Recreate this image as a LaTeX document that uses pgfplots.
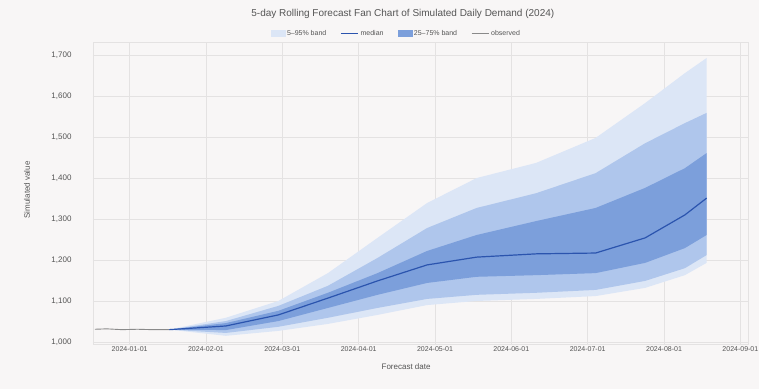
\documentclass[border=0pt]{standalone}
\usepackage{pgfplots}
\pgfplotsset{compat=1.18}
\usepackage{fontspec}
\setmainfont{Liberation Sans}
\definecolor{bgc}{HTML}{F8F6F6}
\definecolor{gridc}{HTML}{E4E2E2}
\definecolor{bandA}{HTML}{DCE6F6}
\definecolor{bandB}{HTML}{AFC6EC}
\definecolor{bandC}{HTML}{7C9FDB}
\definecolor{medc}{HTML}{2B54AE}
\definecolor{histc}{HTML}{8A8A8A}
\definecolor{txtc}{HTML}{555555}
\begin{document}
\begin{tikzpicture}
\fill[bgc] (-93pt,-45pt) rectangle (666pt,344pt);
\path[use as bounding box] (-93pt,-45pt) rectangle (666pt,344pt);
\begin{axis}[
  at={(0,0)}, anchor=south west,
  scale only axis, width=655pt, height=302pt,
  xmin=-0.48, xmax=8.1, ymin=995, ymax=1732,
  axis background/.style={fill=bgc},
  axis line style={gridc},
  grid=major, grid style={gridc, line width=0.6pt},
  major tick length=0pt,
  xtick={0,1,2,3,4,5,6,7,8},
  xticklabels={2024-01-01,2024-02-01,2024-03-01,2024-04-01,2024-05-01,2024-06-01,2024-07-01,2024-08-01,2024-09-01},
  ytick={1000,1100,1200,1300,1400,1500,1600,1700},
  /pgf/number format/assume math mode=true,
  /pgf/number format/1000 sep={,},
  tick label style={font=\fontsize{7}{8}\selectfont, text=txtc},
  xticklabel style={yshift=1pt},
  yticklabel style={font=\fontsize{8}{9}\selectfont, xshift=-18pt},
  xlabel={Forecast date}, ylabel={Simulated value},
  label style={font=\fontsize{8}{9}\selectfont, text=txtc},
  xlabel style={at={(axis description cs:0.478,0)}, anchor=center, yshift=-23pt},
  ylabel style={at={(axis description cs:-0.1008,0.51)}, anchor=center},
  title={5-day Rolling Forecast Fan Chart of Simulated Daily Demand (2024)},
  title style={font=\fontsize{10}{12}\selectfont, text=txtc, at={(axis description cs:0.473,1)}, anchor=south, yshift=14pt},
  legend style={at={(axis description cs:0.463,1)}, anchor=south, yshift=1pt, draw=none, fill=none, font=\fontsize{7}{8}\selectfont, text=txtc, legend columns=4, /tikz/every even column/.append style={column sep=12pt}},
  legend cell align=left,
]
% 5-95 band
\addplot[draw=none, fill=bandA, forget plot] coordinates {
(0.519,1030) (1.26,1059) (1.948,1100) (2.597,1168) (3.247,1254) (3.896,1339) (4.545,1400) (5.325,1437) (6.104,1498) (6.753,1583) (7.273,1656) (7.558,1693)
(7.558,1193) (7.273,1163) (6.753,1132) (6.104,1112) (5.325,1105) (4.545,1100) (3.896,1090) (3.247,1066) (2.597,1044) (1.948,1027) (1.26,1015) (0.519,1030)};
% 10-90 band
\addplot[draw=none, fill=bandB, forget plot] coordinates {
(0.519,1030) (1.26,1051) (1.948,1088) (2.597,1137) (3.247,1205) (3.896,1278) (4.545,1327) (5.325,1363) (6.104,1412) (6.753,1485) (7.273,1534) (7.558,1559)
(7.558,1212) (7.273,1180) (6.753,1149) (6.104,1127) (5.325,1120) (4.545,1115) (3.896,1105) (3.247,1083) (2.597,1059) (1.948,1037) (1.26,1022) (0.519,1030)};
% 25-75 band
\addplot[draw=none, fill=bandC, forget plot] coordinates {
(0.519,1030) (1.26,1046) (1.948,1076) (2.597,1120) (3.247,1168) (3.896,1222) (4.545,1261) (5.325,1295) (6.104,1327) (6.753,1376) (7.273,1424) (7.558,1461)
(7.558,1261) (7.273,1229) (6.753,1193) (6.104,1168) (5.325,1163) (4.545,1159) (3.896,1144) (3.247,1115) (2.597,1083) (1.948,1051) (1.26,1029) (0.519,1030)};
% history
\addplot[histc, line width=0.9pt, forget plot] coordinates {
(-0.455,1031) (-0.3,1032) (-0.1,1030) (0.1,1031) (0.3,1030) (0.519,1030)};
% median
\addplot[medc, line width=1.2pt, forget plot] coordinates {
(0.519,1030) (1.26,1039) (1.948,1066) (2.597,1107) (3.247,1149) (3.896,1188) (4.545,1207) (5.325,1215) (6.104,1217) (6.753,1254) (7.273,1310) (7.558,1351)};
\addlegendimage{legend image code/.code={\fill[bandA] (0pt,-3pt) rectangle (14pt,3pt);}}
\addlegendentry{5--95\% band}
\addlegendimage{medc, line width=1.2pt}
\addlegendentry{median}
\addlegendimage{legend image code/.code={\fill[bandC] (0pt,-3pt) rectangle (14pt,3pt);}}
\addlegendentry{25--75\% band}
\addlegendimage{histc, line width=0.9pt}
\addlegendentry{observed}
\end{axis}
\end{tikzpicture}
\end{document}
